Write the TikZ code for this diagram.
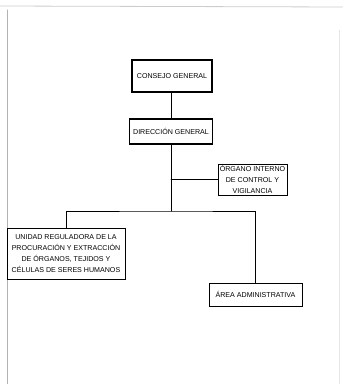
\documentclass[tikz,border=0pt]{standalone}
\usepackage{fontspec}
\setmainfont{Liberation Sans}
\usetikzlibrary{positioning}

\begin{document}
\begin{tikzpicture}[x=1pt, y=1pt, line cap=round]
  \tikzset{unit/.style={draw, line width=0.7pt, align=center, inner sep=1pt,
      font=\fontsize{7.1}{10.8}\selectfont},
    headunit/.style={unit, line width=1.4pt}}
  \useasboundingbox (0,0) rectangle (343,384);
  % marco de la hoja
  \draw[gray!60, line width=1pt] (7,374) -- (7,0);
  \draw[gray!40, line width=0.8pt] (0,378) -- (343,377);
  \draw[gray!20] (339,354) -- (339,0);
  % unidades
  \node[headunit, minimum width=80, minimum height=32] (consejo) at (172,308) {CONSEJO GENERAL};
  \node[headunit, minimum width=83, minimum height=25] (direccion) at (171,252.5) {DIRECCIÓN GENERAL};
  \node[unit, minimum width=69, minimum height=31] (organo) at (252.5,204.5) {ÓRGANO INTERNO\\DE CONTROL Y\\VIGILANCIA};
  \node[unit, minimum width=118, minimum height=51] (unidad) at (66,130.5) {UNIDAD REGULADORA DE LA\\PROCURACIÓN Y EXTRACCIÓN\\DE ÓRGANOS, TEJIDOS Y\\CÉLULAS DE SERES HUMANOS};
  \node[unit, minimum width=93, minimum height=23] (area) at (255.5,89.5) {ÁREA ADMINISTRATIVA};
  % lineas
  \coordinate (bus) at (171,173);
  \draw[line width=0.7pt] (direccion.north) -- (direccion.north |- consejo.south);
  \draw[line width=0.7pt] (direccion.south) -- (bus);
  \draw[line width=0.7pt] (direccion.south |- organo.west) -- (organo.west);
  \draw[line width=0.7pt] (unidad.north) |- (bus) -| (area.north);
\end{tikzpicture}
\end{document}
